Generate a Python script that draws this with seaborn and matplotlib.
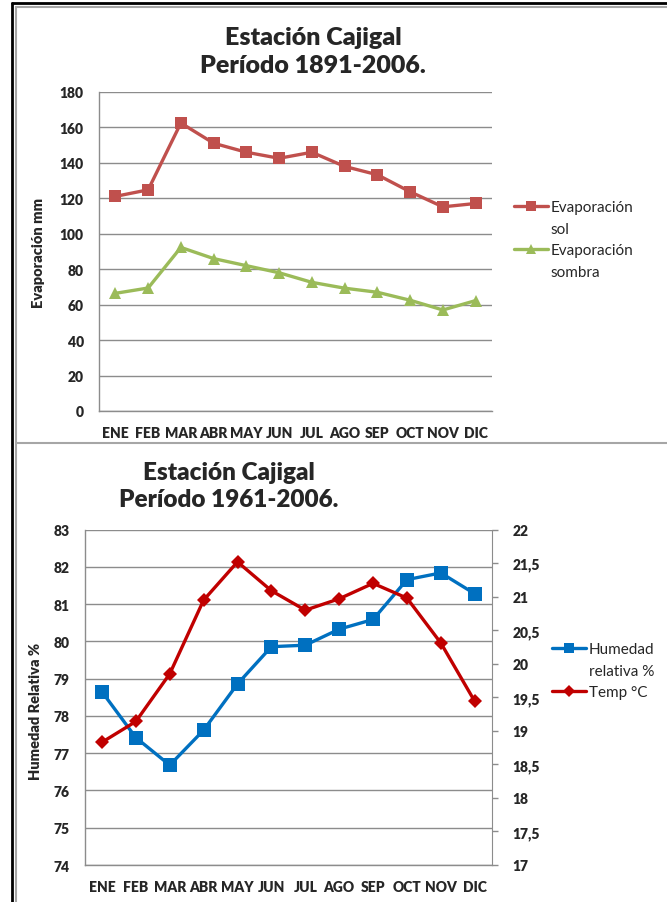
import pandas as pd
import matplotlib.pyplot as plt
import seaborn as sns
from matplotlib.lines import Line2D

# Tamaño de la imagen en pixeles
W, H = 667, 903

# Datos
meses = ["ENE", "FEB", "MAR", "ABR", "MAY", "JUN", "JUL", "AGO", "SEP", "OCT", "NOV", "DIC"]
evap_sol = [121.1, 124.8, 162.5, 151.1, 146.0, 142.6, 146.0, 138.0, 133.3, 123.7, 115.2, 117.1]
evap_sombra = [66.4, 69.4, 92.3, 86.0, 82.0, 78.0, 72.6, 69.3, 67.0, 62.5, 57.0, 62.3]
humedad = [78.65, 77.42, 76.68, 77.62, 78.86, 79.86, 79.90, 80.33, 80.59, 81.66, 81.84, 81.28]
temp = [18.83, 19.14, 19.85, 20.95, 21.52, 21.09, 20.80, 20.97, 21.20, 20.98, 20.31, 19.44]
ticks_temp = [17, 17.5, 18, 18.5, 19, 19.5, 20, 20.5, 21, 21.5, 22]

ROJO = "#C0504D"
VERDE = "#9BBB59"
AZUL = "#0070C0"
GRANATE = "#C00000"
GRIS = "#8C8C8C"
PESO = "heavy"

sns.set_style("white")
plt.rcParams["font.family"] = ["Lato", "DejaVu Sans"]
plt.rcParams["font.size"] = 10

fig = plt.figure(figsize=(W / 100, H / 100), dpi=100)


def px_axes(left, top, right, bottom):
    return fig.add_axes([left / W, 1 - bottom / H, (right - left) / W, (bottom - top) / H])


def fig_line(x0, y0, x1, y1, color, lw):
    fig.add_artist(Line2D([x0 / W, x1 / W], [1 - y0 / H, 1 - y1 / H],
                          transform=fig.transFigure, color=color, lw=lw))


def style_axes(ax):
    ax.set_xlim(-0.5, 11.5)
    ax.yaxis.grid(True, color=GRIS, lw=1)
    ax.xaxis.grid(False)
    for s in ["top", "right"]:
        ax.spines[s].set_visible(False)
    for s in ["left", "bottom"]:
        ax.spines[s].set_color(GRIS)
        ax.spines[s].set_linewidth(1)
    ax.tick_params(axis="x", length=0, pad=11, labelsize=10)
    ax.tick_params(axis="y", length=0, pad=11, labelsize=10)
    for lab in ax.get_xticklabels() + ax.get_yticklabels():
        lab.set_fontweight(PESO)
    ax.set_xlabel("")


# marcos de la hoja
fig_line(12, 4, W, 4, "black", 2)
fig_line(12, 4, 12, H, "black", 2)
fig_line(16, 8, W, 8, "#A6A6A6", 1.5)
fig_line(16, 8, 16, H, "#A6A6A6", 1.5)
fig_line(16, 444, W, 444, "#A6A6A6", 1.5)

vacio = Line2D([], [], color="none")

# =============== 1. Evaporacion ===============
ax1 = px_axes(99, 93, 492, 412)
evap = pd.DataFrame({
    "mes": meses * 2,
    "valor": evap_sol + evap_sombra,
    "serie": ["sol"] * 12 + ["sombra"] * 12,
})
sns.lineplot(data=evap, x="mes", y="valor", hue="serie", style="serie",
             markers={"sol": "s", "sombra": "^"}, dashes=False,
             palette={"sol": ROJO, "sombra": VERDE}, sort=False,
             lw=2.4, markersize=8.5, markeredgewidth=0, legend=False, ax=ax1)
ax1.set_ylim(0, 180)
ax1.set_yticks(range(0, 181, 20))
style_axes(ax1)
ax1.set_ylabel("Evaporación mm", fontsize=10.5, fontweight=PESO)
ax1.yaxis.set_label_coords(-0.137, 0.5)

h_sol = Line2D([], [], color=ROJO, lw=2.4, marker="s", markersize=7, markeredgewidth=0)
h_som = Line2D([], [], color=VERDE, lw=2.4, marker="^", markersize=7, markeredgewidth=0)
ax1.legend([h_sol, vacio, h_som, vacio], ["Evaporación", "sol", "Evaporación", "sombra"],
           loc="upper left", bbox_to_anchor=(514 / W, 1 - 201 / H), bbox_transform=fig.transFigure,
           frameon=False, borderpad=0, borderaxespad=0, handlelength=2.2,
           handletextpad=0.2, labelspacing=0.5, fontsize=11)

fig.text(313 / W, 1 - 38 / H, "Estación Cajigal", ha="center", va="center",
         fontsize=18, fontweight=PESO)
fig.text(313 / W, 1 - 66 / H, "Período 1891-2006.", ha="center", va="center",
         fontsize=18, fontweight=PESO)

# =============== 2. Humedad y temperatura ===============
ax2 = px_axes(85, 530.7, 491.7, 866)
sns.lineplot(x=meses, y=humedad, color=AZUL, marker="s", sort=False,
             lw=2.4, markersize=9.5, markeredgewidth=0, ax=ax2)
ax2.set_ylim(74, 83)
ax2.set_yticks(range(74, 84))
style_axes(ax2)
ax2.set_ylabel("Humedad Relativa %", fontsize=10.5, fontweight=PESO)
ax2.yaxis.set_label_coords(-0.106, 0.46)

ax3 = ax2.twinx()
sns.lineplot(x=meses, y=temp, color=GRANATE, marker="D", sort=False,
             lw=2.4, markersize=7, markeredgewidth=0, ax=ax3)
ax3.set_ylim(17, 22)
ax3.set_yticks(ticks_temp)
ax3.set_yticklabels([f"{t:g}".replace(".", ",") for t in ticks_temp])
for s in ["top", "left", "bottom"]:
    ax3.spines[s].set_visible(False)
ax3.spines["right"].set_color(GRIS)
ax3.grid(False)
ax3.tick_params(axis="y", direction="out", length=4, width=1, color=GRIS, pad=11, labelsize=10)
for lab in ax3.get_yticklabels():
    lab.set_fontweight(PESO)
ax3.set_ylabel("")

h_hum = Line2D([], [], color=AZUL, lw=2.4, marker="s", markersize=7.5, markeredgewidth=0)
h_tmp = Line2D([], [], color=GRANATE, lw=2.4, marker="D", markersize=6, markeredgewidth=0)
ax3.legend([h_hum, vacio, h_tmp], ["Humedad", "relativa %", "Temp °C"],
           loc="upper left", bbox_to_anchor=(552 / W, 1 - 643 / H), bbox_transform=fig.transFigure,
           frameon=False, borderpad=0, borderaxespad=0, handlelength=2.2,
           handletextpad=0.2, labelspacing=0.5, fontsize=11)

fig.text(229 / W, 1 - 473 / H, "Estación Cajigal", ha="center", va="center",
         fontsize=17.5, fontweight=PESO)
fig.text(229 / W, 1 - 500 / H, "Período 1961-2006.", ha="center", va="center",
         fontsize=17.5, fontweight=PESO)

fig.savefig("out.png", dpi=100)
